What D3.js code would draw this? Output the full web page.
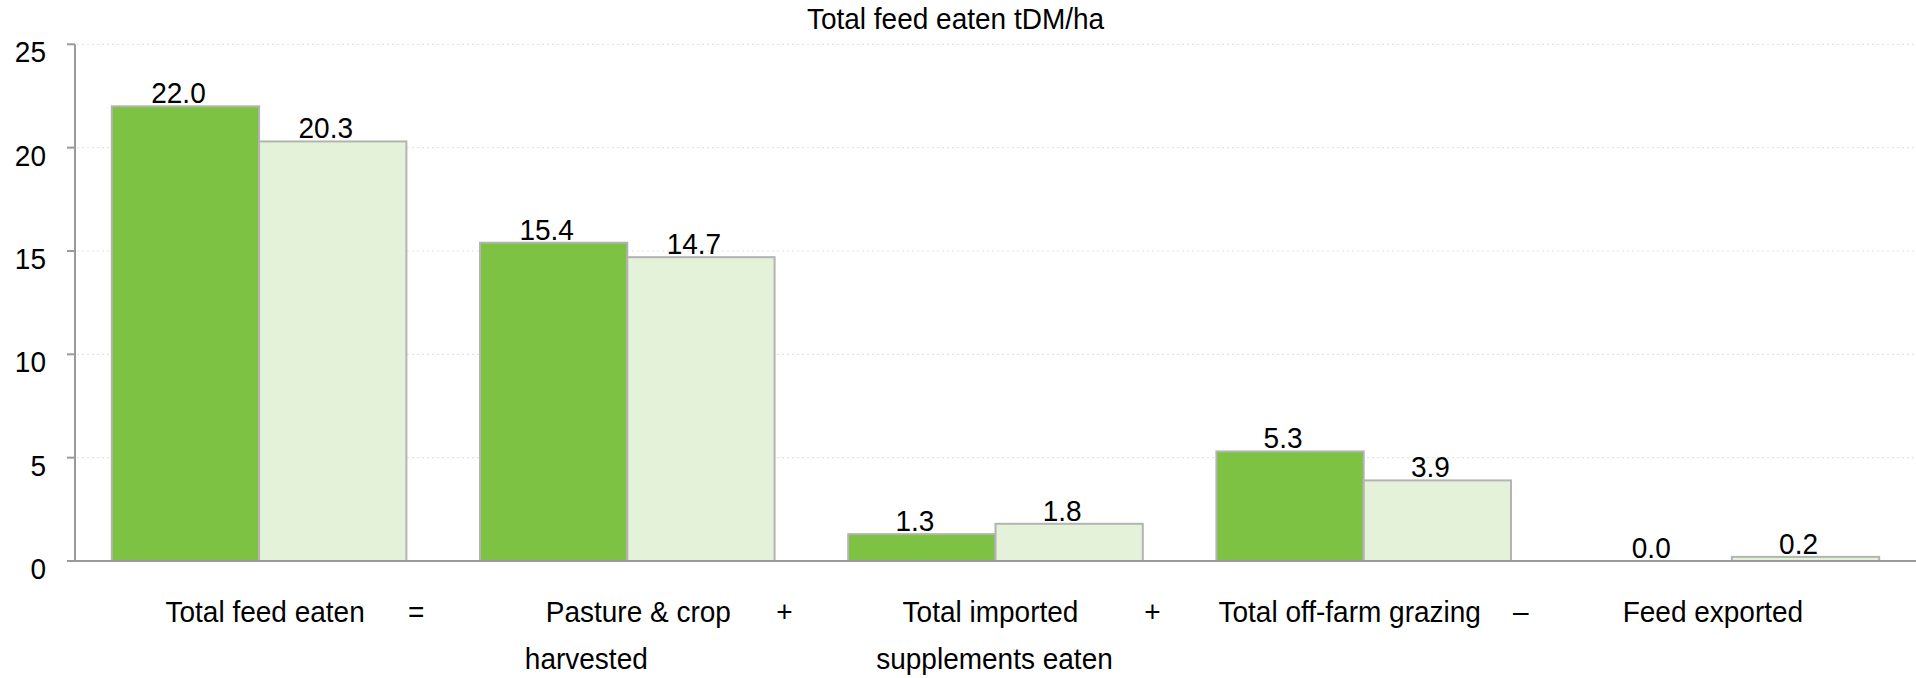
<!DOCTYPE html>
<html>
<head>
<meta charset="utf-8">
<script src="https://cdn.jsdelivr.net/npm/d3@7"></script>
<style>
  html, body { margin: 0; padding: 0; background: #ffffff; }
  svg { display: block; }
  text { font-family: "Liberation Sans", Arial, sans-serif; fill: #000; }
</style>
</head>
<body>
<svg id="chart" width="1916" height="678"></svg>
<script>
// Chart data
const title = "Total feed eaten tDM/ha";
const categories = [
  "Total feed eaten",
  "Pasture & crop harvested",
  "Total imported supplements eaten",
  "Total off-farm grazing",
  "Feed exported"
];
const categoryLines = [
  ["Total feed eaten"],
  ["Pasture & crop", "harvested"],
  ["Total imported", "supplements eaten"],
  ["Total off-farm grazing"],
  ["Feed exported"]
];
const operators = ["=", "+", "+", "\u2013", ""];
const seriesCurrent = [22.0, 15.4, 1.3, 5.3, 0.0];
const seriesPrevious = [20.3, 14.7, 1.8, 3.9, 0.2];
const yTickValues = [0, 5, 10, 15, 20, 25];

// Layout
const W = 1916, H = 678;
const plot = { left: 75, right: 1916, top: 44.3, bottom: 561 };
const fontSize = 28;
const stretchY = 1.06;
const lineDx = [[6], [11, -41], [-5, -1], [-14], [-19]];
const operatorDx = 157;
const colors = ["#7dc243", "#e5f2da"];

const svg = d3.select("#chart");

const x = d3.scaleBand()
  .domain(categories)
  .range([plot.left, plot.right])
  .paddingInner(0.2)
  .paddingOuter(0.1);

const xSeries = d3.scaleBand()
  .domain([0, 1])
  .range([0, x.bandwidth()]);

const y = d3.scaleLinear()
  .domain([0, 25])
  .range([plot.bottom, plot.top]);

// Text helper with a slight vertical stretch
function addText(g, str, px, py, anchor) {
  return g.append("text")
    .attr("transform", `translate(${px},${py}) scale(1,${stretchY})`)
    .attr("text-anchor", anchor)
    .style("font-size", fontSize + "px")
    .style("white-space", "pre")
    .text(str);
}

// Dotted gridlines
svg.append("g")
  .selectAll("line")
  .data(yTickValues.filter(d => d > 0))
  .join("line")
  .attr("x1", plot.left + 2)
  .attr("x2", plot.right)
  .attr("y1", d => y(d))
  .attr("y2", d => y(d))
  .attr("stroke", "#e4e4e4")
  .attr("stroke-width", 1.2)
  .attr("stroke-dasharray", "2,3");

// Bars
const rows = categories.map((c, i) => ({ cat: c, values: [seriesCurrent[i], seriesPrevious[i]] }));
const groups = svg.append("g")
  .selectAll("g")
  .data(rows)
  .join("g")
  .attr("transform", d => `translate(${x(d.cat)},0)`);

groups.selectAll("rect")
  .data(d => d.values.map((v, s) => ({ v, s })))
  .join("rect")
  .attr("x", d => xSeries(d.s))
  .attr("width", xSeries.bandwidth())
  .attr("y", d => y(d.v))
  .attr("height", d => y(0) - y(d.v))
  .attr("fill", d => colors[d.s])
  .attr("stroke", d => d.v > 0 ? "#b3b3b3" : "none")
  .attr("stroke-width", 2);

// Y axis line, ticks and labels
const axis = svg.append("g");
axis.append("line")
  .attr("x1", plot.left).attr("x2", plot.left)
  .attr("y1", y(25)).attr("y2", y(0))
  .attr("stroke", "#9a9a9a").attr("stroke-width", 2);
axis.selectAll("line.tick")
  .data(yTickValues)
  .join("line")
  .attr("class", "tick")
  .attr("x1", plot.left - 8).attr("x2", plot.left)
  .attr("y1", d => y(d)).attr("y2", d => y(d))
  .attr("stroke", "#9a9a9a").attr("stroke-width", 2);
yTickValues.forEach(v => addText(axis, d3.format("d")(v), plot.left - 29, y(v) + 18, "end"));

// Baseline
svg.append("line")
  .attr("x1", plot.left - 8).attr("x2", plot.right)
  .attr("y1", y(0)).attr("y2", y(0))
  .attr("stroke", "#9a9a9a").attr("stroke-width", 2);

// Value labels
const labels = svg.append("g");
rows.forEach(r => {
  r.values.forEach((v, s) => {
    const cx = x(r.cat) + xSeries(s) + xSeries.bandwidth() / 2;
    addText(labels, d3.format(".1f")(v), cx - 7, y(v) - 3, "middle");
  });
});

// Category labels with operators
const cats = svg.append("g");
categories.forEach((c, i) => {
  const cx = x(c) + x.bandwidth() / 2;
  categoryLines[i].forEach((line, k) => {
    addText(cats, line, cx + lineDx[i][k], 622 + k * 47, "middle");
  });
  if (operators[i]) addText(cats, operators[i], cx + operatorDx, 622, "middle");
});

// Title
addText(svg, title, 955.5, 29, "middle");
</script>
</body>
</html>
